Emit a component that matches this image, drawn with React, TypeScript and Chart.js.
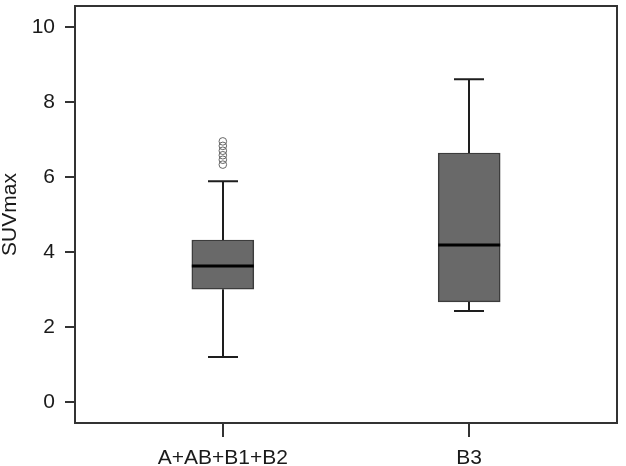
import React, { useEffect, useRef } from "react";
import { Chart, registerables } from "chart.js";

Chart.register(...registerables);

const CATEGORIES = ["A+AB+B1+B2", "B3"];
const WHISKER_LOW = [1.2, 2.43];
const Q1 = [3.01, 2.67];
const MEDIAN = [3.63, 4.19];
const Q3 = [4.32, 6.64];
const WHISKER_HIGH = [5.89, 8.61];
const OUTLIERS_A = [6.33, 6.46, 6.58, 6.7, 6.83, 6.95];
const Y_TICKS = [0, 2, 4, 6, 8, 10];
const Y_TITLE = "SUVmax";

const FONT = "'Liberation Sans', Arial, sans-serif";

const boxParts = {
  id: "boxParts",
  beforeDatasetsDraw(chart: any) {
    const { ctx, scales } = chart;
    const x = scales.x;
    const y = scales.y;
    ctx.save();
    ctx.strokeStyle = "#1e1e1e";
    ctx.lineWidth = 2;
    CATEGORIES.forEach((_, i) => {
      const cx = Math.round(x.getPixelForValue(i));
      const lo = y.getPixelForValue(WHISKER_LOW[i]);
      const hi = y.getPixelForValue(WHISKER_HIGH[i]);
      const q1 = y.getPixelForValue(Q1[i]);
      const q3 = y.getPixelForValue(Q3[i]);
      const capHalf = 15;
      ctx.beginPath();
      ctx.moveTo(cx, q3);
      ctx.lineTo(cx, hi);
      ctx.moveTo(cx - capHalf, hi);
      ctx.lineTo(cx + capHalf, hi);
      ctx.moveTo(cx, q1);
      ctx.lineTo(cx, lo);
      ctx.moveTo(cx - capHalf, lo);
      ctx.lineTo(cx + capHalf, lo);
      ctx.stroke();
    });
    ctx.restore();
  },
  afterDatasetsDraw(chart: any) {
    const { ctx, scales } = chart;
    const y = scales.y;
    const meta = chart.getDatasetMeta(0);
    ctx.save();
    ctx.strokeStyle = "#000";
    ctx.lineWidth = 3;
    meta.data.forEach((bar: any, i: number) => {
      const my = y.getPixelForValue(MEDIAN[i]);
      ctx.beginPath();
      ctx.moveTo(bar.x - bar.width / 2, my);
      ctx.lineTo(bar.x + bar.width / 2, my);
      ctx.stroke();
    });
    ctx.restore();
  },
  afterDraw(chart: any) {
    const { ctx, chartArea } = chart;
    ctx.save();
    ctx.strokeStyle = "#333";
    ctx.lineWidth = 2;
    ctx.strokeRect(chartArea.left, chartArea.top, chartArea.right - chartArea.left, chartArea.bottom - chartArea.top);
    ctx.restore();
  },
};

export default function App() {
  const ref = useRef<HTMLCanvasElement | null>(null);
  useEffect(() => {
    if (!ref.current) return;
    const chart = new Chart(ref.current, {
      type: "bar",
      data: {
        datasets: [
          {
            type: "bar",
            data: CATEGORIES.map((_, i) => ({ x: i, y: [Q1[i], Q3[i]] })) as any,
            backgroundColor: "#696969",
            borderColor: "#3c3c3c",
            borderWidth: 1.5,
            borderSkipped: false,
            barThickness: 62,
            order: 2,
          } as any,
          {
            type: "scatter",
            data: OUTLIERS_A.map((v) => ({ x: 0, y: v })),
            pointRadius: 3.8,
            pointBorderWidth: 1,
            pointBorderColor: "#666",
            pointBackgroundColor: "rgba(255,255,255,0)",
            order: 1,
          } as any,
        ],
      },
      options: {
        responsive: false,
        animation: false,
        layout: { padding: { top: 6, right: 9, left: 0, bottom: 0 } },
        plugins: { legend: { display: false }, tooltip: { enabled: false } },
        scales: {
          x: {
            type: "linear",
            min: -0.6,
            max: 1.6,
            offset: false,
            afterBuildTicks: (s: any) => {
              s.ticks = CATEGORIES.map((_, i) => ({ value: i }));
            },
            afterFit: (s: any) => {
              s.height = 43;
              s.paddingLeft = 0;
              s.paddingRight = 0;
            },
            grid: {
              offset: false,
              drawOnChartArea: false,
              drawTicks: true,
              tickLength: 14,
              color: "#333",
              lineWidth: 2,
            },
            border: { display: false },
            ticks: {
              padding: 9,
              color: "#1a1a1a",
              font: { family: FONT, size: 21 },
              callback: (v: any) => CATEGORIES[Math.round(Number(v))] ?? "",
              maxRotation: 0,
              autoSkip: false,
            },
          },
          y: {
            type: "linear",
            min: -0.56,
            max: 10.56,
            afterBuildTicks: (s: any) => {
              s.ticks = Y_TICKS.map((v) => ({ value: v }));
            },
            afterFit: (s: any) => {
              s.width = 75;
              s.paddingTop = 0;
              s.paddingBottom = 0;
            },
            grid: {
              drawOnChartArea: false,
              drawTicks: true,
              tickLength: 10,
              color: "#333",
              lineWidth: 2,
            },
            border: { display: false },
            ticks: {
              padding: 10,
              color: "#1a1a1a",
              font: { family: FONT, size: 21 },
              callback: (v: any) => String(v),
            },
            title: {
              display: true,
              text: Y_TITLE,
              color: "#1a1a1a",
              font: { family: FONT, size: 21, lineHeight: 1 },
              padding: 0,
            },
          },
        },
      },
      plugins: [boxParts],
    });
    return () => chart.destroy();
  }, []);
  return (
    <div style={{ position: "absolute", left: 0, top: 0, width: 626, height: 466, background: "#fff" }}>
      <canvas ref={ref} width={626} height={466} style={{ display: "block" }} />
    </div>
  );
}
